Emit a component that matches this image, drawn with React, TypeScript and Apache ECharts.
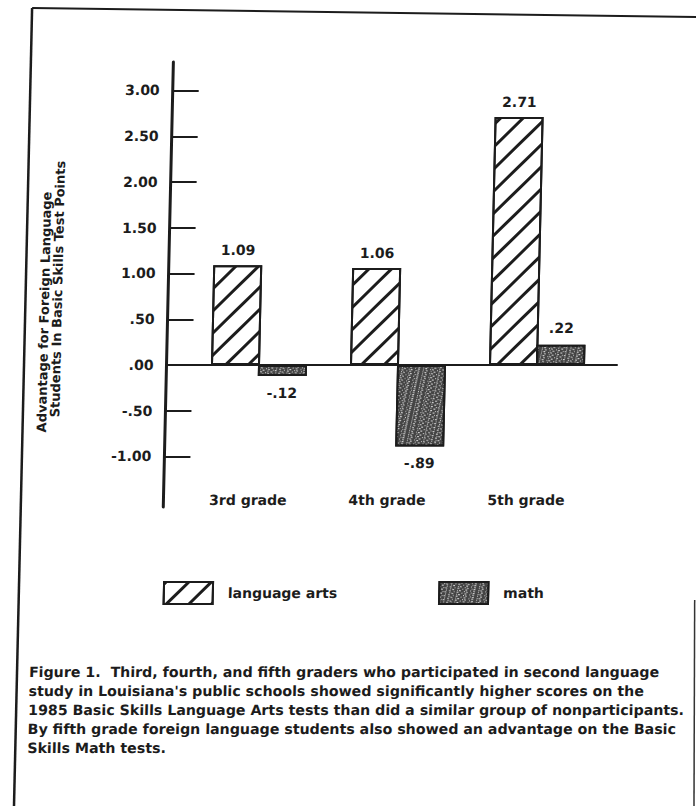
import React, { useEffect, useRef } from 'react';
import * as echarts from 'echarts';

const categories = ['3rd grade', '4th grade', '5th grade'];
const seriesNames = ['language arts', 'math'];
const languageArts = [1.09, 1.06, 2.71];
const mathScores = [-0.12, -0.89, 0.22];
const yTickValues = [-1, -0.5, 0, 0.5, 1, 1.5, 2, 2.5, 3];
const yTickLabels = ['-1.00', '-.50', '.00', '.50', '1.00', '1.50', '2.00', '2.50', '3.00'];
const yAxisTitle = ['Advantage for Foreign Language', 'Students In Basic Skills Test Points'];
const captionLines = [
  'Figure 1.  Third, fourth, and fifth graders who participated in second language',
  "study in Louisiana's public schools showed significantly higher scores on the",
  '1985 Basic Skills Language Arts tests than did a similar group of nonparticipants.',
  'By fifth grade foreign language students also showed an advantage on the Basic',
  'Skills Math tests.',
];

const fmt = (v: number) => v.toFixed(2).replace(/^(-?)0\./, '$1.');

const FONT = '"DejaVu Sans", sans-serif';
const INK = '#1c1c1c';
const W = 740;
const H = 806;
const ZERO_Y = 365;
const UNIT = 91.5;
const TOP = 62;
const BOTTOM = 507;
const yMax = (ZERO_Y - TOP) / UNIT;
const yMin = -(BOTTOM - ZERO_Y) / UNIT;

export default function App() {
  const ref = useRef<HTMLDivElement>(null);
  useEffect(() => {
    if (!ref.current) return;
    const chart = echarts.init(ref.current, undefined, { renderer: 'svg' });
    const labelStyle = { fontFamily: FONT, fontWeight: 'bold' as const, fontSize: 14, color: INK };
    const hatch = {
      symbol: 'rect',
      symbolSize: 1,
      color: INK,
      dashArrayX: [1, 0],
      dashArrayY: [2.2, 13],
      rotation: -Math.PI / 4,
    };
    const speckle = {
      symbol: 'rect',
      symbolSize: 1,
      color: '#cfcfcf',
      dashArrayX: [[1, 2, 2, 3], [2, 3, 1, 1]],
      dashArrayY: [1, 1],
      rotation: 0.2,
    };
    chart.setOption({
      animation: false,
      backgroundColor: '#ffffff',
      grid: [
        { left: 166.5, right: W - 617, top: TOP, bottom: H - BOTTOM },
        { left: 189.5, width: 417, top: TOP, bottom: H - BOTTOM },
      ],
      legend: {
        left: 163,
        top: 576,
        itemWidth: 49,
        itemHeight: 22,
        itemGap: 101,
        icon: 'rect',
        data: seriesNames,
        itemStyle: { borderColor: INK, borderWidth: 2 },
        textStyle: { ...labelStyle, padding: [0, 0, 0, 10] },
      },
      xAxis: [
        {
          gridIndex: 0,
          type: 'value',
          min: 0,
          max: 1,
          axisLine: { show: true, onZero: true, lineStyle: { color: INK, width: 2 } },
          axisTick: { show: false },
          axisLabel: { show: false },
          splitLine: { show: false },
        },
        {
          gridIndex: 1,
          type: 'category',
          data: categories,
          position: 'bottom',
          offset: -14,
          axisLine: { show: false, onZero: false },
          axisTick: { show: false },
          axisLabel: { ...labelStyle, margin: 0, padding: [0, 16, 0, 0] },
          splitLine: { show: false },
        },
      ],
      yAxis: [
        {
          gridIndex: 0,
          type: 'value',
          min: yMin,
          max: yMax,
          axisLine: { show: true, lineStyle: { color: INK, width: 3 } },
          axisTick: {
            show: true,
            inside: true,
            length: 26,
            customValues: yTickValues,
            lineStyle: { color: INK, width: 2 },
          },
          axisLabel: {
            ...labelStyle,
            margin: 13,
            customValues: yTickValues,
            formatter: (v: number) => {
              const i = yTickValues.findIndex((t) => Math.abs(t - v) < 1e-6);
              return i >= 0 ? yTickLabels[i] : '';
            },
          },
          splitLine: { show: false },
        },
        { gridIndex: 1, type: 'value', min: yMin, max: yMax, show: false },
      ],
      series: [
        {
          name: seriesNames[0],
          type: 'bar',
          xAxisIndex: 1,
          yAxisIndex: 1,
          barWidth: 49,
          barGap: '-4%',
          itemStyle: { color: '#ffffff', borderColor: INK, borderWidth: 2, decal: hatch },
          label: { show: true, position: 'top', distance: 8, ...labelStyle, formatter: (p: any) => fmt(p.value) },
          data: languageArts.map((v) => ({ value: v, label: { position: v < 0 ? 'bottom' : 'top' } })),
        },
        {
          name: seriesNames[1],
          type: 'bar',
          xAxisIndex: 1,
          yAxisIndex: 1,
          barWidth: 49,
          itemStyle: { color: '#444444', borderColor: INK, borderWidth: 2, decal: speckle },
          label: { show: true, distance: 10, ...labelStyle, formatter: (p: any) => fmt(p.value) },
          data: mathScores.map((v) => ({ value: v, label: { position: v < 0 ? 'bottom' : 'top' } })),
        },
      ],
      graphic: [
        { type: 'line', shape: { x1: 24, y1: 8, x2: 740, y2: 17.6 }, style: { stroke: INK, lineWidth: 2 } },
        { type: 'line', shape: { x1: 24, y1: 8, x2: 24, y2: 806 }, style: { stroke: INK, lineWidth: 2.5 } },
        { type: 'line', shape: { x1: 700, y1: 600, x2: 704, y2: 806 }, style: { stroke: '#333', lineWidth: 1.5 } },
        {
          type: 'text',
          x: 43,
          y: 312,
          rotation: Math.PI / 2,
          style: { text: yAxisTitle[0], ...labelStyle, fontSize: 13, fill: INK, align: 'center', verticalAlign: 'middle' },
        },
        {
          type: 'text',
          x: 56,
          y: 289,
          rotation: Math.PI / 2,
          style: { text: yAxisTitle[1], ...labelStyle, fontSize: 13, fill: INK, align: 'center', verticalAlign: 'middle' },
        },
        {
          type: 'text',
          x: 36,
          y: 663,
          style: {
            text: captionLines.join('\n'),
            fontFamily: FONT,
            fontWeight: 'bold',
            fontSize: 14.2,
            lineHeight: 19,
            fill: INK,
            align: 'left',
            verticalAlign: 'top',
          },
        },
      ],
    });
    return () => chart.dispose();
  }, []);
  return (
    <div style={{ position: 'absolute', left: 0, top: 0, width: 696, height: 806, overflow: 'hidden', background: '#fff' }}>
      <div
        ref={ref}
        style={{ width: W, height: H, transform: 'skewX(-1.3deg)', transformOrigin: `0 ${ZERO_Y}px` }}
      />
    </div>
  );
}
